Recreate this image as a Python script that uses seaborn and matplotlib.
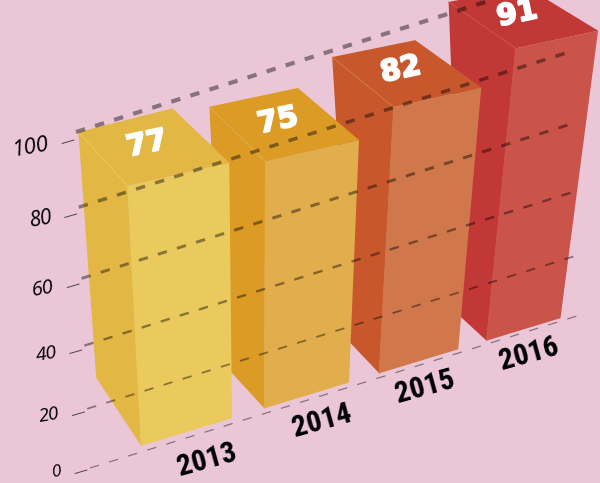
import matplotlib

matplotlib.use("Agg")
import matplotlib.patheffects as pe
import matplotlib.pyplot as plt
import numpy as np
import seaborn as sns
from matplotlib.patches import Polygon
from matplotlib.transforms import Affine2D, Transform

years = ["2013", "2014", "2015", "2016"]
values = [77, 75, 82, 91]
levels = [0, 20, 40, 60, 80, 100]

front_colors = ["#eaca5c", "#e2ad4c", "#d0784b", "#ca5449"]
shade_colors = ["#e3b744", "#db9b25", "#c8582c", "#c23837"]
bg = "#ebc6d6"

# camera: bar front and back planes, (category, value) -> pixel
FRONT_VIEW = np.array([[131.042221, -0.346021, 187.208741], [-22.358034, -3.582007, 431.800961], [0.035898, -0.001353, 1.0]])
BACK_VIEW = np.array([[120.637036, -0.266776, 144.357213], [-23.954475, -3.410058, 376.334076], [-0.002076, -0.000272, 1.0]])

# the picture is not a true perspective, back corners need a small push per bar
# (back top left, back bottom left, back top right)
BACK_NUDGE = [
    [(-3, 7), (-4, -7), (1, 1)],
    [(4, -1), (0, 0), (2, -2)],
    [(4, -2), (7, 4), (-4, -1)],
    [(-3, -1), (-4, 2), (-17, 2)],
]

W, H = 600, 483


def plane(view, u, v):
    q = view @ np.array([u, v, 1.0])
    return q[:2] / q[2]


def grid_xy(u, v):
    x = (1 - u) * (90 - 0.14 * v) + u * (577 - 0.13 * v)
    y = (1 - u) * (468 - 2.86 * v - 0.005 * v**2) + u * (316 - 2.89 * v - 0.005 * v**2)
    return x, y


class PlaneTransform(Transform):
    input_dims = output_dims = 2

    def __init__(self, view):
        super().__init__()
        self.view = view

    def transform_non_affine(self, xy):
        xy = np.asarray(xy, float)
        q = np.c_[xy, np.ones(len(xy))] @ self.view.T
        return q[:, :2] / q[:, 2:]


sns.set_theme(style="white", rc={"lines.scale_dashes": False})

fig = plt.figure(figsize=(W / 100, H / 100), dpi=100, facecolor=bg)
ax = fig.add_axes([0, 0, 1, 1])

sns.barplot(x=years, y=values, hue=years, palette=front_colors, saturation=1, width=0.73, legend=False, ax=ax)

ax.set_axis_off()
# pixel space of the reference, y going down
to_fig = Affine2D().scale(1 / W, -1 / H).translate(0, 1) + fig.transFigure

for i, bar in enumerate(ax.patches[:4]):
    left, right, top = bar.get_x(), bar.get_x() + bar.get_width(), bar.get_height()
    bar.set_transform(PlaneTransform(FRONT_VIEW) + to_fig)
    bar.set_zorder(10 - i)
    bar.set_linewidth(0)

    ftl, ftr = plane(FRONT_VIEW, left, top), plane(FRONT_VIEW, right, top)
    fbl = plane(FRONT_VIEW, left, 0)
    btl = plane(BACK_VIEW, left, top) + BACK_NUDGE[i][0]
    bbl = plane(BACK_VIEW, left, 0) + BACK_NUDGE[i][1]
    btr = plane(BACK_VIEW, right, top) + BACK_NUDGE[i][2]

    for face in ([ftl, fbl, bbl, btl], [ftl, ftr, btr, btl]):
        ax.add_patch(Polygon(face, closed=True, transform=to_fig, facecolor=shade_colors[i], linewidth=0, zorder=10 - i))
    for a, b in ((ftl, btl), (ftl, fbl)):
        ax.plot([a[0], b[0]], [a[1], b[1]], transform=to_fig, color=front_colors[i], lw=0.6, zorder=10 - i + 0.5)

    cx, cy = np.mean([ftl, ftr, btr, btl], axis=0)
    ax.text(cx - 5, cy - 3, str(values[i]), transform=to_fig, color="white", fontfamily="DejaVu Sans", fontweight="bold",
            fontsize=21, rotation=12, ha="center", va="center", rotation_mode="anchor", zorder=30,
            path_effects=[pe.withStroke(linewidth=1.4, foreground="white")])

# dashed lines run over the bars and thicken with height
grid_widths = [0.9, 1.3, 1.7, 2.1, 2.5, 3.0]
tick_sizes = [12.5, 13.5, 14, 14.5, 15, 16]
for v, lw, size in zip(levels, grid_widths, tick_sizes):
    x0, y0 = grid_xy(0, v)
    x1, y1 = grid_xy(1, v)
    ax.plot([x0, x1], [y0, y1], transform=to_fig, color="black", alpha=0.42, lw=lw, linestyle=(0, (6.8, 7.6)),
            dash_capstyle="butt", zorder=20)

    tx, ty = 87 - 0.13 * v, 470 - 2.8 * v - 0.005 * v**2
    ax.plot([tx - 12, tx], [ty + 3.5, ty], transform=to_fig, color="#444444", lw=0.7, zorder=20)
    ax.text(tx - 25, ty + 1 + 0.03 * v, str(v), transform=to_fig, color="black", fontfamily="Open Sans", style="italic",
            fontsize=size, rotation=10, ha="right", va="center", rotation_mode="anchor", zorder=30)

year_spots = [(207, 460), (322, 421), (425, 387), (529, 354)]
for year, (x, y) in zip(years, year_spots):
    ax.text(x, y, year, transform=to_fig, color="black", fontfamily="Roboto Condensed", fontweight=700,
            fontsize=21.5, rotation=15.5, ha="center", va="center", rotation_mode="anchor", zorder=30)

fig.savefig("out.png", dpi=100, facecolor=bg)
